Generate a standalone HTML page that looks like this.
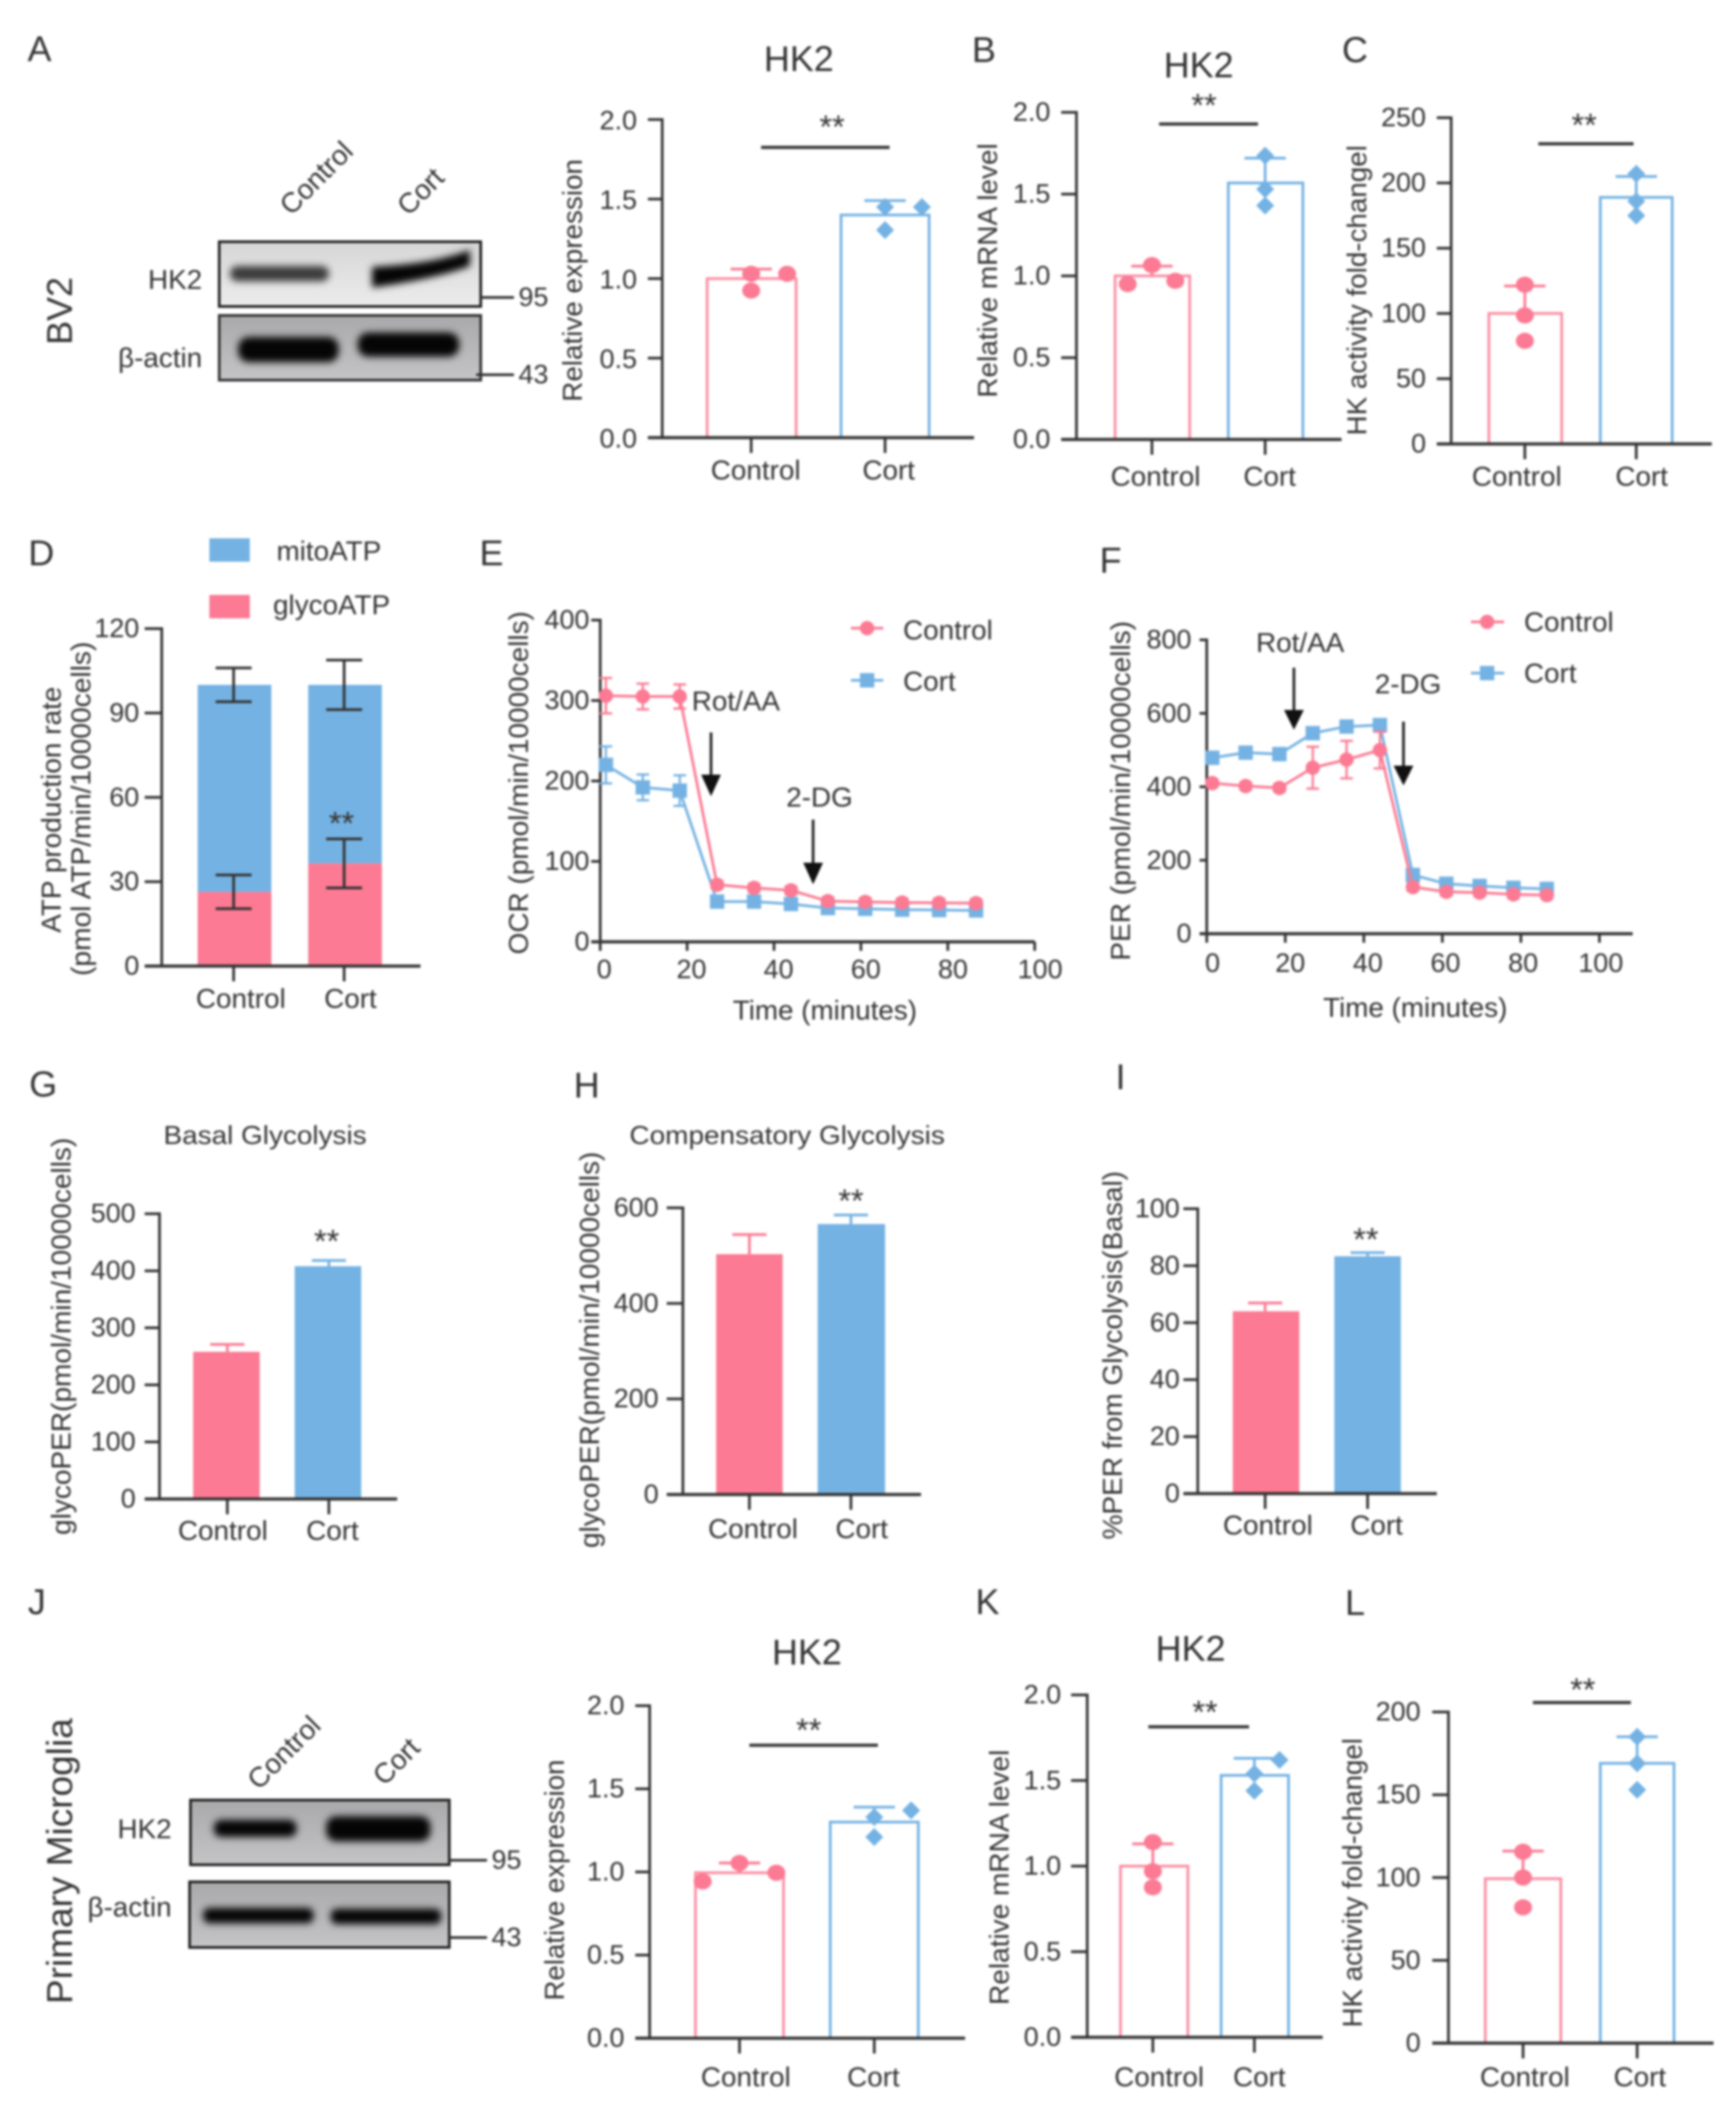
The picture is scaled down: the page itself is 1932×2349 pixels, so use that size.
<!DOCTYPE html>
<html lang="en">
<head>
<meta charset="utf-8">
<title>HK2 and glycolysis figure panels</title>
<style>
html,body{margin:0;padding:0;background:#fff;overflow:hidden}
#figure{display:block;width:1932px;height:2349px;filter:blur(1.3px);background:#fff}
text{font-family:"Liberation Sans",sans-serif;fill:#333;font-size:31px;dominant-baseline:central}
text.num{font-size:30px}
.letter{font-size:40px;text-anchor:middle}
.mid{text-anchor:middle}
.band{filter:blur(4px)}
</style>
</head>
<body>
<svg id="figure" xmlns="http://www.w3.org/2000/svg" width="1932" height="2349" viewBox="0 0 1932 2349">
  <defs>
    <linearGradient id="blotLight" x1="0" y1="0" x2="0" y2="1"><stop offset="0" stop-color="#d6d6d6"/><stop offset="1" stop-color="#ececec"/></linearGradient>
    <linearGradient id="blotGrey" x1="0" y1="0" x2="0" y2="1"><stop offset="0" stop-color="#a9a9ab"/><stop offset="1" stop-color="#c4c4c6"/></linearGradient>
  </defs>

  <g>
    <text class="letter" x="44" y="55">A</text>
    <text class="letter" x="1095" y="56">B</text>
    <text class="letter" x="1508" y="56">C</text>
    <text class="letter" x="46" y="616">D</text>
    <text class="letter" x="547" y="616">E</text>
    <text class="letter" x="1236" y="624">F</text>
    <text class="letter" x="48" y="1207">G</text>
    <text class="letter" x="653" y="1208">H</text>
    <text class="letter" x="1247" y="1199">I</text>
    <text class="letter" x="41" y="1783">J</text>
    <text class="letter" x="1099" y="1783">K</text>
    <text class="letter" x="1508" y="1784">L</text>
  </g>

  <g>
    <text class="mid" style="font-size:40px" transform="translate(67 346) rotate(-90)">BV2</text>
    <text class="mid" transform="translate(352 198) rotate(-45)">Control</text>
    <text class="mid" transform="translate(468 213) rotate(-45)">Cort</text>
    <text x="225" y="311" text-anchor="end">HK2</text>
    <text x="225" y="398" text-anchor="end">β-actin</text>
    <rect x="244" y="269" width="291" height="72" fill="url(#blotLight)" stroke="#222" stroke-width="3"/>
    <g class="band">
      <rect x="256" y="296" width="110" height="17" rx="8" fill="#3a3a3a"/>
      <path d="M414 297 C450 295 490 291 523 278 L523 296 C490 308 450 315 414 320 Z" fill="#050505"/>
    </g>
    <rect x="244" y="351" width="291" height="72" fill="url(#blotGrey)" stroke="#333" stroke-width="3"/>
    <g class="band">
      <rect x="265" y="375" width="112" height="28" rx="12" fill="#050505"/>
      <rect x="398" y="370" width="113" height="27" rx="12" fill="#050505"/>
    </g>
    <line x1="535" y1="331" x2="572" y2="331" stroke="#333" stroke-width="3"/>
    <text class="num" x="577" y="331">95</text>
    <line x1="530" y1="417" x2="572" y2="417" stroke="#333" stroke-width="3"/>
    <text class="num" x="577" y="417">43</text>
  </g>

  <g>
    <text class="mid" style="font-size:40px" textLength="318" lengthAdjust="spacingAndGlyphs" transform="translate(67 2071) rotate(-90)">Primary Microglia</text>
    <text class="mid" transform="translate(316 1950) rotate(-45)">Control</text>
    <text class="mid" transform="translate(441 1960) rotate(-45)">Cort</text>
    <text x="191" y="2035" text-anchor="end">HK2</text>
    <text x="191" y="2122" text-anchor="end">β-actin</text>
    <rect x="212" y="2003" width="288" height="72" fill="url(#blotGrey)" stroke="#222" stroke-width="3"/>
    <g class="band">
      <rect x="238" y="2025" width="92" height="19" rx="8" fill="#050505"/>
      <rect x="363" y="2021" width="116" height="28" rx="11" fill="#050505"/>
    </g>
    <rect x="211" y="2094" width="289" height="73" fill="url(#blotGrey)" stroke="#222" stroke-width="3"/>
    <g class="band">
      <rect x="226" y="2123" width="123" height="17" rx="7" fill="#050505"/>
      <rect x="368" y="2124" width="123" height="17" rx="7" fill="#050505"/>
    </g>
    <line x1="500" y1="2070" x2="542" y2="2070" stroke="#333" stroke-width="3"/>
    <text class="num" x="547" y="2070">95</text>
    <line x1="500" y1="2156" x2="542" y2="2156" stroke="#333" stroke-width="3"/>
    <text class="num" x="547" y="2156">43</text>
  </g>

  <g>
    <text class="mid" style="font-size:40px" x="889" y="66">HK2</text>
    <text class="mid" style="font-size:40px" x="1334" y="73">HK2</text>
    <text class="mid" x="295" y="1264" textLength="226" lengthAdjust="spacingAndGlyphs" style="font-size:29px">Basal Glycolysis</text>
    <text class="mid" x="876" y="1264" textLength="351" lengthAdjust="spacingAndGlyphs" style="font-size:29px">Compensatory Glycolysis</text>
    <text class="mid" style="font-size:40px" x="898" y="1839">HK2</text>
    <text class="mid" style="font-size:40px" x="1325" y="1835">HK2</text>
  </g>

  <g>
    <text class="mid" textLength="270" lengthAdjust="spacingAndGlyphs" transform="translate(637 312) rotate(-90)">Relative expression</text>
    <text class="mid" textLength="283" lengthAdjust="spacingAndGlyphs" transform="translate(1099 301) rotate(-90)">Relative mRNA level</text>
    <text class="mid" textLength="323" lengthAdjust="spacingAndGlyphs" transform="translate(1510 323) rotate(-90)">HK activity fold-changel</text>
    <text class="mid" textLength="274" lengthAdjust="spacingAndGlyphs" transform="translate(57 901) rotate(-90)">ATP production rate</text>
    <text class="mid" textLength="372" lengthAdjust="spacingAndGlyphs" transform="translate(90 900) rotate(-90)">(pmol ATP/min/10000cells)</text>
    <text class="mid" textLength="382" lengthAdjust="spacingAndGlyphs" transform="translate(577 871) rotate(-90)">OCR (pmol/min/10000cells)</text>
    <text class="mid" textLength="378" lengthAdjust="spacingAndGlyphs" transform="translate(1247 880) rotate(-90)">PER (pmol/min/10000cells)</text>
    <text class="mid" textLength="442" lengthAdjust="spacingAndGlyphs" transform="translate(68 1487) rotate(-90)">glycoPER(pmol/min/10000cells)</text>
    <text class="mid" textLength="441" lengthAdjust="spacingAndGlyphs" transform="translate(656 1502) rotate(-90)">glycoPER(pmol/min/10000cells)</text>
    <text class="mid" textLength="410" lengthAdjust="spacingAndGlyphs" transform="translate(1238 1508) rotate(-90)">%PER from Glycolysis(Basal)</text>
    <text class="mid" textLength="268" lengthAdjust="spacingAndGlyphs" transform="translate(617 2092) rotate(-90)">Relative expression</text>
    <text class="mid" textLength="284" lengthAdjust="spacingAndGlyphs" transform="translate(1112 2089) rotate(-90)">Relative mRNA level</text>
    <text class="mid" textLength="322" lengthAdjust="spacingAndGlyphs" transform="translate(1505 2095) rotate(-90)">HK activity fold-changel</text>
    <text class="mid" x="918" y="1124" textLength="205" lengthAdjust="spacingAndGlyphs">Time (minutes)</text>
    <text class="mid" x="1575" y="1121" textLength="205" lengthAdjust="spacingAndGlyphs">Time (minutes)</text>
  </g>

  <g>
    <rect x="233" y="599" width="45" height="26" fill="#74b2e3"/>
    <text class="mid" x="366" y="613">mitoATP</text>
    <rect x="233" y="662" width="45" height="26" fill="#fc7a93"/>
    <text class="mid" x="369" y="673">glycoATP</text>
  </g>
  <g>
    <line x1="947" y1="699" x2="983" y2="699" stroke="#fc7a93" stroke-width="3"/>
    <circle cx="965" cy="699" r="8" fill="#fc7a93"/>
    <text x="1005" y="701">Control</text>
    <line x1="947" y1="757" x2="983" y2="757" stroke="#74b2e3" stroke-width="3"/>
    <rect x="957" y="749" width="16" height="16" fill="#74b2e3"/>
    <text x="1005" y="758">Cort</text>
  </g>
  <g>
    <line x1="1637" y1="692" x2="1674" y2="692" stroke="#fc7a93" stroke-width="3"/>
    <circle cx="1655" cy="692" r="8" fill="#fc7a93"/>
    <text x="1696" y="692">Control</text>
    <line x1="1637" y1="749" x2="1674" y2="749" stroke="#74b2e3" stroke-width="3"/>
    <rect x="1647" y="741" width="16" height="16" fill="#74b2e3"/>
    <text x="1696" y="749">Cort</text>
  </g>

  <g id="panel-a"></g>
  <g id="panel-b"></g>
  <g id="panel-c"></g>
  <g id="panel-d"></g>
  <g id="panel-e"></g>
  <g id="panel-f"></g>
  <g id="panel-g"></g>
  <g id="panel-h"></g>
  <g id="panel-i"></g>
  <g id="panel-j"></g>
  <g id="panel-k"></g>
  <g id="panel-l"></g>
</svg>

<script>
// ---------- chart data ----------
const categories = ['Control', 'Cort'];
const ticks2 = ['0.0', '0.5', '1.0', '1.5', '2.0'];
const ticks250 = ['0', '50', '100', '150', '200', '250'];
const ticks200 = ['0', '50', '100', '150', '200'];
const ticks120 = ['0', '30', '60', '90', '120'];
const ticks400 = ['0', '100', '200', '300', '400'];
const ticks800 = ['0', '200', '400', '600', '800'];
const ticks500 = ['0', '100', '200', '300', '400', '500'];
const ticks600 = ['0', '200', '400', '600'];
const ticks100 = ['0', '20', '40', '60', '80', '100'];

const aMeans = [1.0, 1.40];
const aErrTops = [1.06, 1.49];
const aControlPoints = [1.03, 1.03, 0.925];
const aCortPoints = [1.45, 1.45, 1.305];

const bMeans = [1.0, 1.568];
const bErrTops = [1.06, 1.72];
const bControlPoints = [1.066, 0.95, 0.97];
const bCortPoints = [1.735, 1.53, 1.43];

const cMeans = [100, 189];
const cErrTops = [121, 205];
const cControlPoints = [122, 98.5, 79];
const cCortPoints = [207, 186, 175];

const jMeans = [0.995, 1.30];
const jErrTops = [1.054, 1.39];
const jControlPoints = [1.054, 0.943, 0.995];
const jCortPoints = [1.33, 1.37, 1.21];

const kMeans = [1.0, 1.53];
const kErrTops = [1.13, 1.63];
const kControlPoints = [1.14, 0.97, 0.876];
const kCortPoints = [1.62, 1.54, 1.44];

const lMeans = [99.3, 169];
const lErrTops = [116, 185];
const lControlPoints = [115.6, 100, 82];
const lCortPoints = [185, 169, 153];

const dGlyco = [26.4, 36.5];
const dGlycoErr = [6, 8.7];
const dTotal = [100, 100];
const dMitoErr = [6, 8.8];

const gMeans = [258, 408];
const gErrTops = [271, 418];
const hMeans = [503, 566];
const hErrTops = [544, 585];
const iMeans = [64, 83.3];
const iErrTops = [66.9, 84.6];

const eTimes = [1.3, 9.8, 18.3, 26.9, 35.4, 43.9, 52.4, 61, 69.5, 78, 86.5];
const eControl = [306, 305, 305, 71, 67, 64, 50.5, 49.6, 48.8, 48.4, 48];
const eControlErr = [22, 16, 15, 5, 5, 5, 5, 5, 5, 5, 5];
const eCort = [220, 192, 188, 50, 50, 47, 42, 41, 40, 39.5, 39];
const eCortErr = [23, 16, 19, 5, 5, 5, 5, 5, 5, 5, 5];
const eArrowTimes = [25.5, 49];

const fTimes = [1.4, 9.9, 18.5, 27, 35.6, 44.1, 52.5, 61, 69.5, 78.1, 86.6];
const fControl = [410, 402, 397, 452, 474, 500, 127, 114, 112, 107, 105];
const fControlErr = [10, 10, 10, 57, 51, 50, 10, 10, 10, 10, 10];
const fCort = [479, 493, 489, 546, 564, 568, 160, 136, 130, 125, 122];
const fCortErr = [10, 10, 10, 10, 10, 10, 10, 10, 10, 10, 10];
const fArrowTimes = [22.2, 50.1];

// ---------- drawing helpers ----------
const NS = 'http://www.w3.org/2000/svg';
const PINK = '#fc7a93';
const BLUE = '#74b2e3';
const INK = '#333';
const COLORS = [PINK, BLUE];

function mk(parent, tag, attrs, txt) {
  const el = document.createElementNS(NS, tag);
  for (const k in attrs) el.setAttribute(k, attrs[k]);
  if (txt !== undefined) el.textContent = txt;
  parent.appendChild(el);
  return el;
}

function yAxisFn(L, tickLabels) {
  const max = Number(tickLabels[tickLabels.length - 1]);
  return v => L.y0 - (v / max) * (L.y0 - L.yTop);
}

function drawValueAxis(g, L, tickLabels) {
  const y = yAxisFn(L, tickLabels);
  const axis = mk(g, 'line', {x1: L.ax, x2: L.ax, y1: L.yTop - 1.5, y2: L.y0, stroke: INK, 'stroke-width': 3});
  
  
  const base = mk(g, 'line', {x1: L.tickLeft, x2: L.xEnd, y1: L.y0, y2: L.y0, stroke: INK, 'stroke-width': 3.5});
  
  
  tickLabels.forEach(label => {
    const py = y(Number(label));
    const t = mk(g, 'line', {x1: L.tickLeft, x2: L.ax, y1: py, y2: py, stroke: INK, 'stroke-width': 3});
    
    
    const lb = mk(g, 'text', {class: 'num', x: L.labelRight, y: py + (L.labelDy || 0), 'text-anchor': 'end'}, label);
    
    
  });
}

function drawCategoryAxis(g, L) {
  categories.forEach((cat, i) => {
    const t = mk(g, 'line', {x1: L.cx[i], x2: L.cx[i], y1: L.y0, y2: L.y0 + 17, stroke: INK, 'stroke-width': 3});
    
    
    const lb = mk(g, 'text', {x: L.catX[i], y: L.catY, 'text-anchor': 'middle'}, cat);
    
    
  });
}

function drawSignificance(g, L) {
  if (L.sig) {
    const s = mk(g, 'line', {x1: L.sig[0], x2: L.sig[1], y1: L.sig[2], y2: L.sig[2], stroke: INK, 'stroke-width': 3.5});
    
    
  }
  const st = mk(g, 'text', {x: L.star[0], y: L.star[1] + 4, 'text-anchor': 'middle', style: 'font-size:36px'}, '**');
  
  
}

function drawErrTop(g, x, yFrom, yTo, capHalf, color) {
  const s = mk(g, 'line', {x1: x, x2: x, y1: yFrom, y2: yTo, stroke: color, 'stroke-width': 3});
  
  
  const c = mk(g, 'line', {x1: x - capHalf, x2: x + capHalf, y1: yTo, y2: yTo, stroke: color, 'stroke-width': 3});
  
  
}

function drawHollow(id, L, tickLabels, means, errTops, controlPts, cortPts) {
  const g = document.getElementById(id);
  const y = yAxisFn(L, tickLabels);
  means.forEach((m, i) => {
    const [l, r] = L.bars[i];
    const bar = mk(g, 'path', {d: `M${l} ${L.y0}V${y(m)}H${r}V${L.y0}`, fill: '#fff', stroke: COLORS[i], 'stroke-width': 3, 'stroke-opacity': i === 0 ? 0.85 : 1});
    
    
  });
  drawValueAxis(g, L, tickLabels);
  drawCategoryAxis(g, L);
  errTops.forEach((e, i) => drawErrTop(g, L.cx[i], y(means[i]), y(e), 23, COLORS[i]));
  controlPts.forEach((v, i) => {
    const p = mk(g, 'ellipse', {cx: L.cx[0] + L.jitter[0][i], cy: y(v), rx: 10, ry: 9, fill: PINK});
    
    
  });
  cortPts.forEach((v, i) => {
    const cx = L.cx[1] + L.jitter[1][i];
    const cy = y(v);
    const p = mk(g, 'polygon', {points: `${cx - 10},${cy} ${cx},${cy - 10} ${cx + 10},${cy} ${cx},${cy + 10}`, fill: BLUE});
    
    
  });
  drawSignificance(g, L);
}

function drawFilled(id, L, tickLabels, means, errTops) {
  const g = document.getElementById(id);
  const y = yAxisFn(L, tickLabels);
  errTops.forEach((e, i) => drawErrTop(g, L.cx[i], y(means[i]), y(e), 19, COLORS[i]));
  means.forEach((m, i) => {
    const [l, r] = L.bars[i];
    const bar = mk(g, 'rect', {x: l, y: y(m), width: r - l, height: L.y0 - y(m), fill: COLORS[i]});
    
    
  });
  drawValueAxis(g, L, tickLabels);
  drawCategoryAxis(g, L);
  drawSignificance(g, L);
}

function drawStacked(id, L, tickLabels, glyco, glycoErr, total, mitoErr) {
  const g = document.getElementById(id);
  const y = yAxisFn(L, tickLabels);
  total.forEach((t, i) => {
    const [l, r] = L.bars[i];
    const mito = mk(g, 'rect', {x: l, y: y(t), width: r - l, height: y(glyco[i]) - y(t), fill: BLUE});
    
    
    const gl = mk(g, 'rect', {x: l, y: y(glyco[i]), width: r - l, height: L.y0 - y(glyco[i]), fill: PINK});
    
    
  });
  total.forEach((t, i) => {
    [[t, mitoErr[i]], [glyco[i], glycoErr[i]]].forEach(([m, e]) => {
      const s = mk(g, 'line', {x1: L.cx[i], x2: L.cx[i], y1: y(m + e), y2: y(m - e), stroke: INK, 'stroke-width': 3});
      
      
      [m + e, m - e].forEach(v => {
        const c = mk(g, 'line', {x1: L.cx[i] - 20, x2: L.cx[i] + 20, y1: y(v), y2: y(v), stroke: INK, 'stroke-width': 3});
        
        
      });
    });
  });
  drawValueAxis(g, L, tickLabels);
  drawCategoryAxis(g, L);
  drawSignificance(g, L);
}

function drawSeries(g, x, y, times, vals, errs, color, shape) {
  const pts = vals.map((v, i) => `${x(times[i])},${y(v)}`).join(' ');
  const line = mk(g, 'polyline', {points: pts, fill: 'none', stroke: color, 'stroke-width': 3});
  
  
  vals.forEach((v, i) => {
    const px = x(times[i]);
    const s = mk(g, 'line', {x1: px, x2: px, y1: y(v + errs[i]), y2: y(v - errs[i]), stroke: color, 'stroke-width': 2.5});
    
    
    [v + errs[i], v - errs[i]].forEach(e => {
      const c = mk(g, 'line', {x1: px - 7, x2: px + 7, y1: y(e), y2: y(e), stroke: color, 'stroke-width': 2.5});
      
      
    });
    const m = shape === 'circle'
      ? mk(g, 'circle', {cx: px, cy: y(v), r: 8, fill: color})
      : mk(g, 'rect', {x: px - 8, y: y(v) - 8, width: 16, height: 16, fill: color});
    
    
  });
}

function drawTimeCourse(id, L, yTicks, xTicks, times, control, controlErr, cort, cortErr, arrowTimes) {
  const g = document.getElementById(id);
  const y = yAxisFn(L, yTicks);
  const xMax = Number(xTicks[xTicks.length - 1]);
  const x = t => L.ax + (t / xMax) * (L.x100 - L.ax);
  drawValueAxis(g, L, yTicks);
  xTicks.forEach(label => {
    const v = Number(label);
    const px = x(v);
    const t = mk(g, 'line', {x1: px, x2: px, y1: L.y0, y2: L.y0 + 10, stroke: INK, 'stroke-width': 3});
    
    
    const lb = mk(g, 'text', {class: 'num', x: px + L.labelShift[0] + (L.labelShift[1] - L.labelShift[0]) * v / xMax, y: L.xLabelY, 'text-anchor': 'middle'}, label);
    
    
  });
  drawSeries(g, x, y, times, cort, cortErr, BLUE, 'square');
  drawSeries(g, x, y, times, control, controlErr, PINK, 'circle');
  arrowTimes.forEach((t, i) => {
    const px = x(t);
    const [top, headTop, headBottom] = L.arrows[i];
    const ln = mk(g, 'line', {x1: px, x2: px, y1: top, y2: headTop + 2, stroke: '#222', 'stroke-width': 3});
    
    
    const hd = mk(g, 'polygon', {points: `${px - 11},${headTop} ${px + 11},${headTop} ${px},${headBottom}`, fill: '#111'});
    
    
    const lb = mk(g, 'text', {x: L.arrowLabels[i][0], y: L.arrowLabels[i][1], 'text-anchor': 'middle'}, L.arrowNames[i]);
    
    
  });
}

// ---------- panels (layout in page pixels, values from the arrays above) ----------
drawHollow('panel-a', {ax: 737, xEnd: 1084, y0: 487, yTop: 133, tickLeft: 721, labelRight: 709, labelDy: 1.5,
  bars: [[787, 886], [936, 1034]], cx: [836, 985], catX: [841, 989], catY: 523,
  jitter: [[0, 40, 0], [0, 41, 0]], sig: [847, 990, 164], star: [926, 137]},
  ticks2, aMeans, aErrTops, aControlPoints, aCortPoints);

drawHollow('panel-b', {ax: 1198, xEnd: 1493, y0: 489, yTop: 125, tickLeft: 1181, labelRight: 1169,
  bars: [[1241, 1324], [1367, 1450]], cx: [1282, 1408], catX: [1286, 1413], catY: 530,
  jitter: [[0, -27, 26], [0, 0, 0]], sig: [1290, 1400, 138], star: [1340, 113]},
  ticks2, bMeans, bErrTops, bControlPoints, bCortPoints);

drawHollow('panel-c', {ax: 1615, xEnd: 1905, y0: 494, yTop: 131, tickLeft: 1599, labelRight: 1587,
  bars: [[1657, 1738], [1781, 1861]], cx: [1697, 1821], catX: [1688, 1827], catY: 530,
  jitter: [[0, 0, 0], [0, 0, 0]], sig: [1712, 1818, 160], star: [1763, 135]},
  ticks250, cMeans, cErrTops, cControlPoints, cCortPoints);

drawStacked('panel-d', {ax: 180, xEnd: 468, y0: 1075, yTop: 699.5, tickLeft: 161, labelRight: 155,
  bars: [[220, 302], [343, 425]], cx: [260, 383], catX: [268, 390], catY: 1111, star: [380, 912]},
  ticks120, dGlyco, dGlycoErr, dTotal, dMitoErr);

drawTimeCourse('panel-e', {ax: 668, xEnd: 1151.5, x100: 1151.5, y0: 1048, yTop: 690, tickLeft: 658, labelRight: 656, xLabelY: 1079, labelShift: [4.5, 6],
  arrows: [[815, 862, 886], [912, 960, 984]], arrowLabels: [[819, 780], [912, 887]], arrowNames: ['Rot/AA', '2-DG']},
  ticks400, ticks100, eTimes, eControl, eControlErr, eCort, eCortErr, eArrowTimes);

drawTimeCourse('panel-f', {ax: 1343, xEnd: 1817, x100: 1780, y0: 1039, yTop: 712, tickLeft: 1335, labelRight: 1326, xLabelY: 1072, labelShift: [6.5, 1.5],
  arrows: [[743, 790, 812], [803, 852, 874]], arrowLabels: [[1447, 715], [1567, 761]], arrowNames: ['Rot/AA', '2-DG']},
  ticks800, ticks100, fTimes, fControl, fControlErr, fCort, fCortErr, fArrowTimes);

drawFilled('panel-g', {ax: 177.5, xEnd: 442, y0: 1668, yTop: 1350.6, tickLeft: 161, labelRight: 151,
  bars: [[215, 289], [328, 402]], cx: [253, 366], catX: [248, 370], catY: 1703, star: [363.5, 1377]},
  ticks500, gMeans, gErrTops);

drawFilled('panel-h', {ax: 760, xEnd: 1025, y0: 1663, yTop: 1344, tickLeft: 742, labelRight: 733,
  bars: [[797, 871], [910, 985]], cx: [834, 947], catX: [838, 959], catY: 1701, star: [947, 1332]},
  ticks600, hMeans, hErrTops);

drawFilled('panel-i', {ax: 1333, xEnd: 1599, y0: 1662, yTop: 1345, tickLeft: 1317, labelRight: 1313,
  bars: [[1372, 1446], [1485, 1559]], cx: [1408, 1522], catX: [1411, 1532], catY: 1697, star: [1520, 1375]},
  ticks100, iMeans, iErrTops);

drawHollow('panel-j', {ax: 723, xEnd: 1074, y0: 2268, yTop: 1898, tickLeft: 707, labelRight: 695,
  bars: [[774, 872], [924, 1022]], cx: [823, 973], catX: [830, 972], catY: 2311,
  jitter: [[0, -41, 41], [0, 41, 0]], sig: [834, 977, 1942], star: [900, 1921]},
  ticks2, jMeans, jErrTops, jControlPoints, jCortPoints);

drawHollow('panel-k', {ax: 1210, xEnd: 1472, y0: 2267, yTop: 1886, tickLeft: 1192, labelRight: 1181,
  bars: [[1247, 1322], [1359, 1434]], cx: [1283, 1396], catX: [1290, 1401.5], catY: 2311,
  jitter: [[0, 0, 0], [28, 0, 0]], sig: [1278, 1390, 1921.5], star: [1341, 1901]},
  ticks2, kMeans, kErrTops, kControlPoints, kCortPoints);

drawHollow('panel-l', {ax: 1612, xEnd: 1907, y0: 2273.5, yTop: 1905, tickLeft: 1594, labelRight: 1581,
  bars: [[1653, 1737], [1781, 1863]], cx: [1695, 1822], catX: [1697, 1825], catY: 2311,
  jitter: [[0, 0, 0], [0, 0, 0]], sig: [1706, 1815, 1894.5], star: [1761.5, 1876]},
  ticks200, lMeans, lErrTops, lControlPoints, lCortPoints);
</script>
</body>
</html>
